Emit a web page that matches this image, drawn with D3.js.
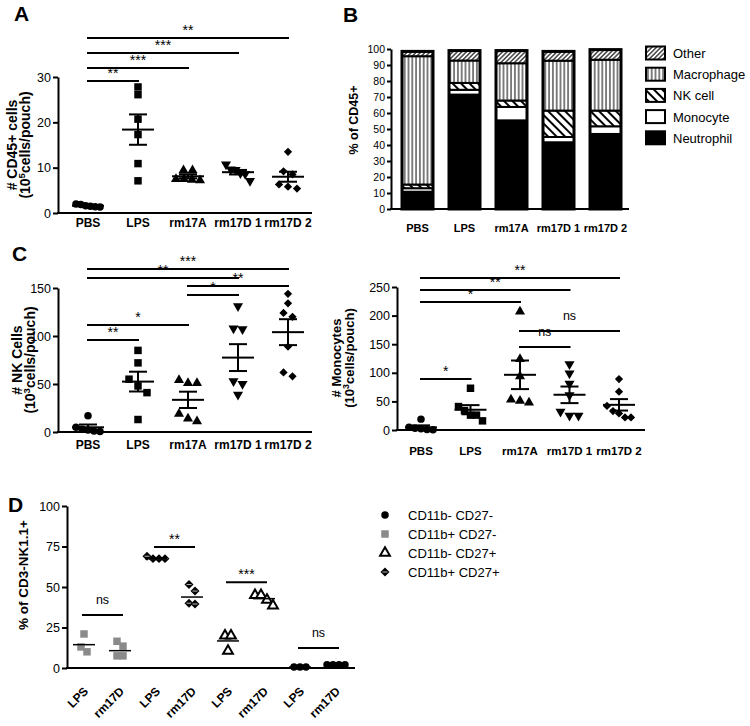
<!DOCTYPE html>
<html><head><meta charset="utf-8">
<script src="https://cdn.jsdelivr.net/npm/d3@7"></script>
<style>
body{margin:0;background:#fff}
svg text{font-family:"Liberation Sans",Arial,Helvetica,sans-serif;fill:#000}
</style>
</head><body>
<svg id="c" width="750" height="726"></svg>
<script>
// ---------------- DATA ----------------
const groups = ["PBS","LPS","rm17A","rm17D 1","rm17D 2"];
const groupMarkers = ["circle","square","triUp","triDown","diamond"];

// Panel A: # CD45+ cells (10^5 cells/pouch)
const cd45Values = [
  [2.0,1.9,1.6,1.4,1.3,1.5],
  [27.8,26.1,20.7,17.3,10.9,7.1],
  [9.4,9.4,7.5,7.3,7.2,7.5],
  [10.7,9.6,9.5,8.8,8.6,7.1],
  [13.5,9.2,8.5,6.3,5.8,5.4]
];
const cd45Mean = [1.6,18.4,8.1,9.0,8.0];
const cd45Sem  = [0.15,3.35,0.45,0.5,1.1];
const cd45Ticks = [0,10,20,30];
const cd45Sig = [
  {a:"PBS",b:"LPS",t:"**",lvl:29.1},
  {a:"PBS",b:"rm17A",t:"***",lvl:32.0},
  {a:"PBS",b:"rm17D 1",t:"***",lvl:35.3},
  {a:"PBS",b:"rm17D 2",t:"**",lvl:38.6}
];

// Panel B: % of CD45+
const cellTypes = ["Neutrophil","Monocyte","NK cell","Macrophage","Other"];
const neutrophilPct = [10.8,71.5,55.4,41.7,46.9];
const monocytePct   = [2.2,3.0,8.4,3.3,4.8];
const nkPct         = [2.3,4.3,4.0,16.5,9.8];
const macrophagePct = [80.2,14.0,23.3,31.2,31.8];
const otherPct      = [3.0,6.2,7.9,5.8,6.3];
const pctTicks = [0,10,20,30,40,50,60,70,80,90,100];

// Panel C left: # NK cells (10^3 cells/pouch)
const nkValues = [
  [17,5,3,2,1,0.5],
  [85,72,55,48,41,13],
  [51,51,54,19,11,14],
  [131,108,107,53,50,39],
  [144,134,124,120,89,58,62]
];
const nkMean = [4.9,52.5,33.5,77.5,104];
const nkSem  = [2.9,10.3,8.5,14,13.5];
const nkTicks = [0,50,100,150];
const nkSig = [
  {a:"PBS",b:"rm17D 2",t:"***",lvl:169.8},
  {a:"PBS",b:"rm17D 1",t:"**",lvl:160.4},
  {a:"rm17A",b:"rm17D 2",t:"**",lvl:152},
  {a:"rm17A",b:"rm17D 1",t:"*",lvl:142.7},
  {a:"PBS",b:"rm17A",t:"*",lvl:111.5},
  {a:"PBS",b:"LPS",t:"**",lvl:95.8}
];

// Panel C right: # Monocytes (10^3 cells/pouch)
const monoValues = [
  [19,5,3,2,1,0.5],
  [73,41,34,26,26,16],
  [207,124,94,53,48,51],
  [115,99,81,61,32,25,25],
  [89,67,42,33,29,22,22]
];
const monoMean = [4.6,35.5,96.5,61.5,44];
const monoSem  = [3.5,8,25,14.5,10];
const monoTicks = [0,50,100,150,200,250];
const monoSig = [
  {a:"PBS",b:"rm17D 2",t:"**",lvl:265.7},
  {a:"PBS",b:"rm17D 1",t:"**",lvl:244.8},
  {a:"PBS",b:"rm17A",t:"*",lvl:223.8},
  {a:"rm17A",b:"rm17D 2",t:"ns",lvl:173},
  {a:"rm17A",b:"rm17D 1",t:"ns",lvl:145},
  {a:"PBS",b:"LPS",t:"*",lvl:89}
];

// Panel D: % of CD3-NK1.1+
const dLabels = ["LPS","rm17D","LPS","rm17D","LPS","rm17D","LPS","rm17D"];
const dSubsets = ["CD11b+ CD27-","CD11b+ CD27-","CD11b+ CD27+","CD11b+ CD27+","CD11b- CD27+","CD11b- CD27+","CD11b- CD27-","CD11b- CD27-"];
const dValues = [
  [21,13,10],
  [16.5,13.5,7.5,7.5],
  [69,67.5,67.5,67.5],
  [51.5,47.5,40,39.5],
  [20,20,10.5],
  [45,45,42,38.5],
  [0.6,0.6,0.6],
  [2,2,2,2]
];
const dMeans = [14.4,10.7,67.5,43.8,16.7,42.8,0.6,1.8];
const dTicks = [0,25,50,75,100];
const dSig = [
  {a:0,b:1,t:"ns",lvl:32.7},
  {a:2,b:3,t:"**",lvl:74.7},
  {a:4,b:5,t:"***",lvl:53},
  {a:6,b:7,t:"ns",lvl:12.3}
];
const legendSubsets = ["CD11b- CD27-","CD11b+ CD27-","CD11b- CD27+","CD11b+ CD27+"];
const subsetMarker = {"CD11b- CD27-":"circle","CD11b+ CD27-":"greySquare","CD11b- CD27+":"openTri","CD11b+ CD27+":"halfDiamond"};

// ---------------- DRAWING ----------------
const svg = d3.select("#c");

function line(x1,y1,x2,y2,w){
  svg.append("line").attr("x1",x1).attr("y1",y1).attr("x2",x2).attr("y2",y2)
    .attr("stroke","#000").attr("stroke-width",w||2);
}
function styleAxis(g,fs){
  g.attr("font-family",null).attr("font-size",null);
  g.select(".domain").attr("stroke-width",2).attr("stroke","#000");
  g.selectAll(".tick line").attr("stroke-width",2).attr("stroke","#000");
  g.selectAll(".tick text").attr("font-size",fs).attr("fill","#000");
}
function marker(type,cx,cy){
  const g = svg.append("g").attr("transform",`translate(${cx},${cy})`);
  if(type==="circle"){
    g.append("path").attr("d",d3.symbol(d3.symbolCircle,44)()).attr("fill","#000");
  } else if(type==="square"){
    g.append("path").attr("d",d3.symbol(d3.symbolSquare,56)()).attr("fill","#000");
  } else if(type==="triUp"){
    g.append("path").attr("d",d3.symbol(d3.symbolTriangle,44)()).attr("fill","#000");
  } else if(type==="triDown"){
    g.append("path").attr("d",d3.symbol(d3.symbolTriangle,44)()).attr("fill","#000").attr("transform","rotate(180)");
  } else if(type==="diamond"){
    g.append("path").attr("d",d3.symbol(d3.symbolSquare,34)()).attr("fill","#000").attr("transform","rotate(45)");
  } else if(type==="greySquare"){
    g.append("path").attr("d",d3.symbol(d3.symbolSquare,56)()).attr("fill","#8a8a8a");
  } else if(type==="openTri"){
    g.append("path").attr("d",d3.symbol(d3.symbolTriangle,42)()).attr("fill","#fff").attr("stroke","#000").attr("stroke-width",2);
  } else if(type==="halfDiamond"){
    g.append("path").attr("d",d3.symbol(d3.symbolSquare,40)()).attr("fill","#000").attr("transform","rotate(45)");
    g.append("line").attr("x1",-2.5).attr("x2",2.5).attr("y1",0).attr("y2",0).attr("stroke","#bbb").attr("stroke-width",1);
  }
}
function dodge(vals,y,thr,sp,maxW){
  const idx = vals.map((v,i)=>({i,py:y(v)})).sort((a,b)=>a.py-b.py);
  const off = vals.map(()=>0);
  let cl=[idx[0]];
  const flush=()=>{const n=cl.length; const s=n>1?Math.min(sp,maxW/(n-1)):0; cl.forEach((c,k)=>off[c.i]=(k-(n-1)/2)*s);};
  for(let k=1;k<idx.length;k++){
    if(idx[k].py-cl[cl.length-1].py<thr) cl.push(idx[k]); else {flush(); cl=[idx[k]];}
  }
  flush();
  return off;
}
function sigLabel(x,lineY,t){
  const isNs = t==="ns";
  svg.append("text").attr("x",x).attr("y",isNs?lineY-5:lineY+3).attr("text-anchor","middle")
    .attr("font-size",isNs?12.5:14).text(t);
}
function yTitle(x1,x2,cy,l1,pre,sup,post,fs){
  svg.append("text").attr("transform",`translate(${x1},${cy}) rotate(-90)`)
    .attr("text-anchor","middle").attr("font-weight","bold").attr("font-size",fs).text(l1);
  if(pre!==null){
    const t = svg.append("text").attr("transform",`translate(${x2},${cy}) rotate(-90)`)
      .attr("text-anchor","middle").attr("font-weight","bold").attr("font-size",fs);
    t.append("tspan").text(pre);
    t.append("tspan").attr("font-size",fs*0.68).attr("dy",-fs*0.38).text(sup);
    t.append("tspan").attr("dy",fs*0.38).text(post);
  }
}
function letter(t,x,y){
  svg.append("text").attr("x",x).attr("y",y).attr("font-size",21).attr("font-weight","bold").text(t);
}

function scatterPanel(o){
  const y = d3.scaleLinear().domain([0,o.ymax]).range([o.yBase,o.yTop]);
  const x = d3.scalePoint().domain(groups).range(o.xRange);
  const gy = svg.append("g").attr("transform",`translate(${o.axisX},0)`)
    .call(d3.axisLeft(y).tickValues(o.ticks).tickSize(5).tickSizeOuter(0).tickPadding(2));
  styleAxis(gy,o.tickFs);
  line(o.axisX-1,o.yBase,o.axisEnd,o.yBase,2);
  groups.forEach(c=>{
    svg.append("text").attr("x",x(c)).attr("y",o.labelY).attr("text-anchor","middle")
      .attr("font-weight","bold").attr("font-size",o.labelFs).text(c);
  });
  o.values.forEach((vals,i)=>{
    const cx = x(groups[i]);
    const offs = dodge(vals,y,7,9,24);
    vals.forEach((v,j)=>marker(groupMarkers[i],cx+offs[j],y(v)));
    const m=o.means[i], s=o.sems[i];
    line(cx-16,y(m),cx+16,y(m),2);
    line(cx,y(m+s),cx,y(m-s),2);
    line(cx-9,y(m+s),cx+9,y(m+s),2);
    line(cx-9,y(m-s),cx+9,y(m-s),2);
  });
  o.sig.forEach(d=>{
    const x1=x(d.a)-1, x2=x(d.b)+1, yy=y(d.lvl);
    line(x1,yy,x2,yy,2);
    sigLabel((x1+x2)/2,yy-6,d.t);
  });
}

// Panel letters
letter("A",14,21); letter("B",343,22); letter("C",12,261); letter("D",8,512);

// ---- Panel A
scatterPanel({ymax:30,yBase:213,yTop:77,axisX:58,axisEnd:312,xRange:[88,288],ticks:cd45Ticks,
  tickFs:12.5,labelY:227,labelFs:12,values:cd45Values,means:cd45Mean,sems:cd45Sem,sig:cd45Sig});
yTitle(17,30,145,"# CD45+ cells","(10","5","cells/pouch)",14);

// ---- Panel C left
scatterPanel({ymax:150,yBase:432,yTop:288,axisX:58,axisEnd:312,xRange:[88,288],ticks:nkTicks,
  tickFs:12.5,labelY:449,labelFs:12,values:nkValues,means:nkMean,sems:nkSem,sig:nkSig});
yTitle(22,35,360,"# NK Cells","(10","3","cells/pouch)",14);

// ---- Panel C right
scatterPanel({ymax:250,yBase:430,yTop:287,axisX:397,axisEnd:645,xRange:[421,619],ticks:monoTicks,
  tickFs:12.5,labelY:455,labelFs:11.5,values:monoValues,means:monoMean,sems:monoSem,sig:monoSig});
yTitle(341,354,358,"# Monocytes","(10","3","cells/pouch)",13);

// ---- Panel B
(function(){
  const defs = svg.append("defs");
  const pat=(id,size,rot,w)=>{
    const p = defs.append("pattern").attr("id",id).attr("patternUnits","userSpaceOnUse")
      .attr("width",size).attr("height",size).attr("patternTransform",`rotate(${rot})`);
    p.append("rect").attr("width",size).attr("height",size).attr("fill","#fff");
    p.append("line").attr("x1",size/2).attr("x2",size/2).attr("y1",0).attr("y2",size)
      .attr("stroke","#000").attr("stroke-width",w);
  };
  pat("pOther",3.2,45,1.1);
  pat("pMacro",3.8,0,1);
  pat("pNK",6,-45,2);
  const fills = {"Neutrophil":"#000","Monocyte":"#fff","NK cell":"url(#pNK)","Macrophage":"url(#pMacro)","Other":"url(#pOther)"};
  const cols = [neutrophilPct,monocytePct,nkPct,macrophagePct,otherPct];
  const rows = groups.map((g,i)=>{const r={group:g}; cellTypes.forEach((k,j)=>r[k]=cols[j][i]); return r;});
  const series = d3.stack().keys(cellTypes)(rows);
  const y = d3.scaleLinear().domain([0,100]).range([209,49]);
  const x = d3.scalePoint().domain(groups).range([417.5,605.5]);
  const bw = 31;
  series.forEach(s=>{
    s.forEach(d=>{
      svg.append("rect").attr("x",x(d.data.group)-bw/2).attr("y",y(d[1]))
        .attr("width",bw).attr("height",y(d[0])-y(d[1]))
        .attr("fill",fills[s.key]).attr("stroke","#000").attr("stroke-width",2);
    });
  });
  rows.forEach(r=>{
    const tot = d3.sum(cellTypes,k=>r[k]);
    svg.append("rect").attr("x",x(r.group)-bw/2).attr("y",y(tot)).attr("width",bw)
      .attr("height",y(0)-y(tot)).attr("fill","none").attr("stroke","#000").attr("stroke-width",3);
    svg.append("text").attr("x",x(r.group)).attr("y",232).attr("text-anchor","middle")
      .attr("font-weight","bold").attr("font-size",11).text(r.group);
  });
  const gy = svg.append("g").attr("transform","translate(391,0)")
    .call(d3.axisLeft(y).tickValues(pctTicks).tickSize(4).tickSizeOuter(0).tickPadding(2));
  styleAxis(gy,10.5);
  line(390,209,629,209,2);
  yTitle(358,0,120,"% of CD45+",null,null,null,12.5);
  // legend
  cellTypes.slice().reverse().forEach((k,i)=>{
    const cy = 53 + i*21.2;
    svg.append("rect").attr("x",646).attr("y",cy-6.5).attr("width",19).attr("height",13)
      .attr("fill",fills[k]).attr("stroke","#000").attr("stroke-width",2);
    svg.append("text").attr("x",673).attr("y",cy+5).attr("font-size",13).text(k);
  });
})();

// ---- Panel D
(function(){
  const y = d3.scaleLinear().domain([0,100]).range([668,506]);
  const x = d3.scalePoint().domain(d3.range(dLabels.length)).range([84,336]);
  const gy = svg.append("g").attr("transform","translate(67,0)")
    .call(d3.axisLeft(y).tickValues(dTicks).tickSize(5).tickSizeOuter(0).tickPadding(2));
  styleAxis(gy,12.5);
  line(66,668,355,668,2);
  dLabels.forEach((l,i)=>{
    svg.append("text").attr("transform",`translate(${x(i)+5},692) rotate(-45)`)
      .attr("text-anchor","end").attr("font-weight","bold").attr("font-size",12).text(l);
  });
  dValues.forEach((vals,i)=>{
    const offs = dodge(vals,y,7,6,18);
    vals.forEach((v,j)=>marker(subsetMarker[dSubsets[i]],x(i)+offs[j],y(v)));
    line(x(i)-11,y(dMeans[i]),x(i)+11,y(dMeans[i]),1.5);
  });
  dSig.forEach(d=>{
    const x1=x(d.a)-2, x2=x(d.b)+3, yy=y(d.lvl);
    line(x1,yy,x2,yy,2);
    sigLabel((x1+x2)/2,yy-6,d.t);
  });
  yTitle(28,0,575,"% of CD3-NK1.1+",null,null,null,13.5);
  legendSubsets.forEach((s,i)=>{
    const cy = 515 + i*19;
    marker(subsetMarker[s],385,cy);
    svg.append("text").attr("x",408).attr("y",cy+4.5).attr("font-size",13).text(s);
  });
})();
</script>
</body></html>
